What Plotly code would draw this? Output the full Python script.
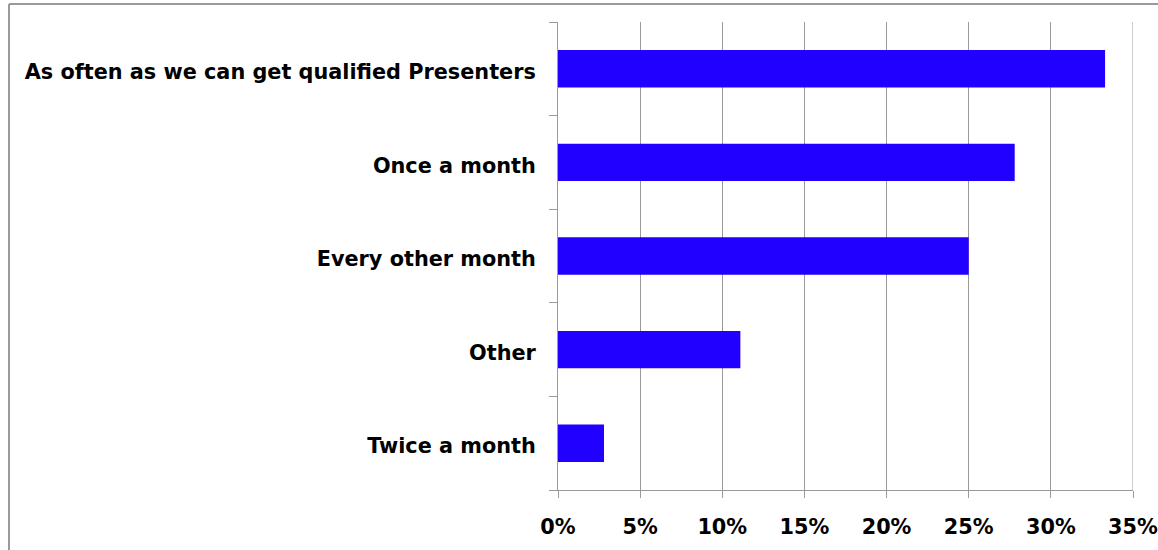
import plotly.graph_objects as go

categories = ["Twice a month", "Other", "Every other month", "Once a month",
              "As often as we can get qualified Presenters"]
values = [0.028, 0.111, 0.250, 0.278, 0.333]
tick_vals = [0, 0.05, 0.10, 0.15, 0.20, 0.25, 0.30, 0.35]
tick_text = ["0%", "5%", "10%", "15%", "20%", "25%", "30%", "35%"]

font = dict(family="DejaVu Sans", size=20.8, color="#000000")

fig = go.Figure()
fig.add_trace(go.Bar(
    x=values, y=categories, orientation="h",
    marker=dict(color="#2200FF", line=dict(width=0)),
    width=0.4,
))

# plot area: x 558..1133, y 22..490
L, R, T, B = 558, 1158 - 1133, 22, 550 - 490
pw, ph = 1158 - L - R, 550 - T - B

fig.update_layout(
    width=1158, height=550,
    margin=dict(l=L, r=R, t=T, b=B, pad=0),
    paper_bgcolor="white", plot_bgcolor="white",
    showlegend=False,
    font=font,
    xaxis=dict(
        range=[0, 0.35], tickvals=tick_vals, ticktext=[f"<b>{t}</b>" for t in tick_text],
        showgrid=True, gridcolor="#9a9a9a", gridwidth=1,
        showline=True, linecolor="#9a9a9a", linewidth=1,
        ticks="outside", ticklen=7, tickcolor="#9a9a9a",
        ticklabelstandoff=11, ticklabeloverflow="allow",
        zeroline=False, fixedrange=True, automargin=False,
    ),
    yaxis=dict(
        type="category", categoryorder="array", categoryarray=categories,
        tickvals=categories, ticktext=[f"<b>{c}</b>" for c in categories],
        showgrid=False,
        showline=True, linecolor="#9a9a9a", linewidth=1,
        ticks="outside", ticklen=8, tickcolor="#9a9a9a", tickson="boundaries",
        ticklabelstandoff=17, ticklabelshift=3,
        range=[-0.5, 4.5], fixedrange=True, automargin=False,
    ),
    shapes=[
        dict(type="line", xref="x", yref="paper",
             x0=0.35, x1=0.35, y0=0, y1=1,
             line=dict(color="#9a9a9a", width=1)),
        dict(type="line", xref="paper", yref="paper",
             x0=(9 - L) / pw, x1=(1158 - L) / pw,
             y0=(550 - B - 4) / ph, y1=(550 - B - 4) / ph,
             line=dict(color="#9a9a9a", width=2)),
        dict(type="line", xref="paper", yref="paper",
             x0=(9 - L) / pw, x1=(9 - L) / pw,
             y0=(550 - B - 4) / ph, y1=(550 - B - 552) / ph,
             line=dict(color="#9a9a9a", width=2)),
    ],
)

fig.write_html("out.html", config={"displayModeBar": False},
               post_script="document.body.style.margin='0';")
